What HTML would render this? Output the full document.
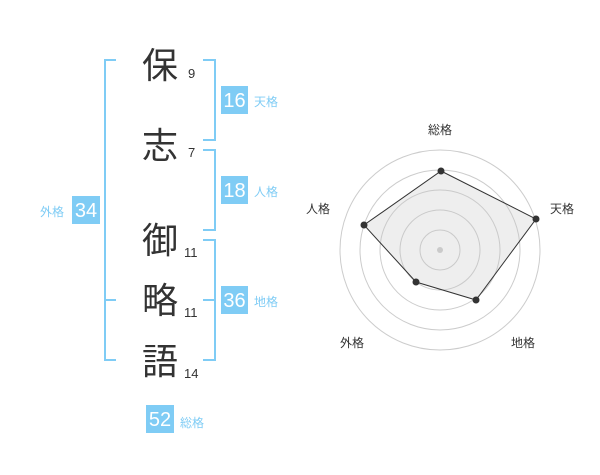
<!DOCTYPE html>
<html><head><meta charset="utf-8"><style>
body{margin:0;width:600px;height:470px;background:#fff;overflow:hidden}
</style></head><body>
<svg width="600" height="470" xmlns="http://www.w3.org/2000/svg" font-family="Liberation Sans, Noto Sans CJK JP, sans-serif">
<g stroke="#7fccf5" stroke-width="2" fill="none">
<path d="M116 60H105V360H116M105 300H116"/>
<path d="M203 60H215V140H203"/>
<path d="M203 150H215V230H203"/>
<path d="M203 240H215V360H203M203 300H215"/>
</g>
<g fill="#7fccf5">
<rect x="221" y="86" width="27" height="28"/>
<rect x="221" y="176" width="27" height="28"/>
<rect x="221" y="286" width="27" height="28"/>
<rect x="72" y="196" width="28" height="28"/>
<rect x="146" y="405" width="28" height="28"/>
</g>
<g fill="#fff" font-size="20" text-anchor="middle">
<text x="234.5" y="107">16</text><text x="234.5" y="197">18</text><text x="234.5" y="307">36</text>
<text x="86" y="217">34</text><text x="160" y="426">52</text>
</g>
<g fill="#7fccf5" font-size="12">
<text x="254" y="106">天格</text><text x="254" y="196">人格</text><text x="254" y="306">地格</text>
<text x="40" y="216">外格</text><text x="180" y="427">総格</text>
</g>
<g fill="#333" font-size="36" text-anchor="middle">
<text x="160" y="78">保</text><text x="160" y="158">志</text><text x="160" y="253">御</text><text x="160" y="313">略</text><text x="160" y="374">語</text>
</g>
<g fill="#333" font-size="13">
<text x="188" y="78">9</text><text x="188" y="157">7</text><text x="184" y="257">11</text><text x="184" y="317">11</text><text x="184" y="378">14</text>
</g>
<g fill="none" stroke="#ccc" stroke-width="1">
<circle cx="440" cy="250" r="20"/><circle cx="440" cy="250" r="40"/><circle cx="440" cy="250" r="60"/><circle cx="440" cy="250" r="80"/><circle cx="440" cy="250" r="100"/>
</g>
<circle cx="440" cy="250" r="3" fill="#ccc"/>
<polygon points="441,171 536,219 476,300 416,282 364,225" fill="rgba(200,200,200,0.3)" stroke="#333" stroke-width="1"/>
<g fill="#333">
<circle cx="441" cy="171" r="3.5"/><circle cx="536" cy="219" r="3.5"/><circle cx="476" cy="300" r="3.5"/><circle cx="416" cy="282" r="3.5"/><circle cx="364" cy="225" r="3.5"/>
</g>
<g fill="#333" font-size="12" text-anchor="middle">
<text x="440" y="134">総格</text><text x="562" y="213">天格</text><text x="523" y="347">地格</text><text x="352" y="347">外格</text><text x="318" y="213">人格</text>
</g>
</svg>
</body></html>
